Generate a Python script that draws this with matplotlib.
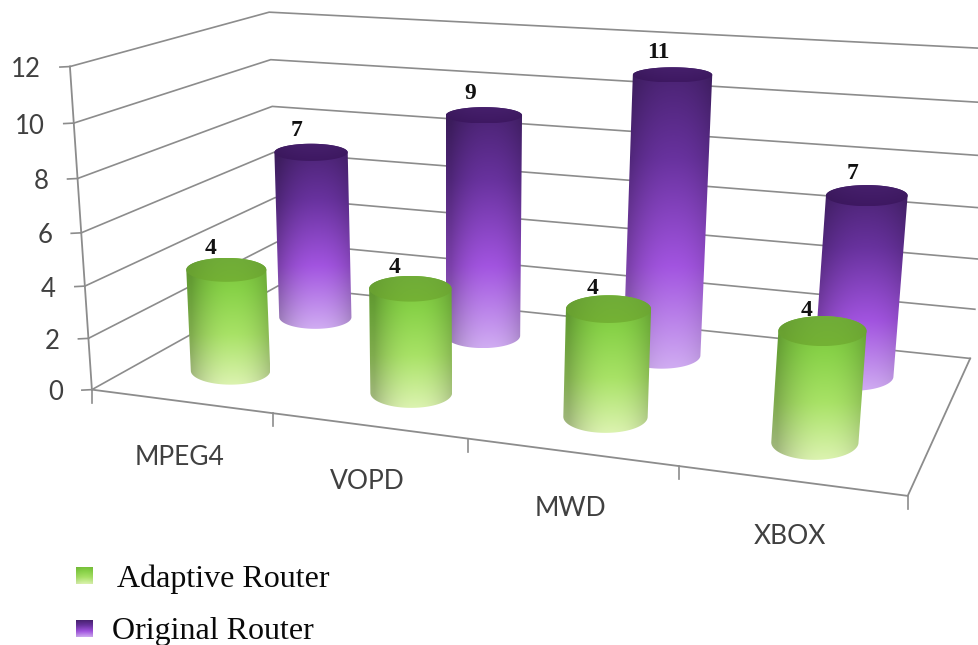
import numpy as np
import matplotlib
matplotlib.use("Agg")
import matplotlib.pyplot as plt
from matplotlib.path import Path
from matplotlib.patches import PathPatch

# Chart data
categories = ["MPEG4", "VOPD", "MWD", "XBOX"]
adaptive_router = [4, 4, 4, 4]
original_router = [7, 9, 11, 7]
y_ticks = [0, 2, 4, 6, 8, 10, 12]
legend_labels = ["Adaptive Router", "Original Router"]

# Camera: known world points (category, depth, value) and their pixel positions
WORLD = np.array([
    [0, 0, 0], [1, 0, 0], [2, 0, 0], [3, 0, 0], [4, 0, 0],
    [0, 0, 12], [0, 1, 0], [0, 1, 12], [4, 1, 0], [4, 1, 2], [4, 1, 12],
], float)
PIXEL = np.array([
    [92, 390], [272, 413], [468, 439], [679, 467], [908, 495],
    [71, 66], [279, 286], [268, 12], [970, 358], [975, 309], [1000, 50],
], float)


def fit_camera(world, pixel):
    rows, rhs = [], []
    for (x, y, z), (u, v) in zip(world, pixel):
        rows.append([x, y, z, 1, 0, 0, 0, 0, -u * x, -u * y, -u * z])
        rows.append([0, 0, 0, 0, x, y, z, 1, -v * x, -v * y, -v * z])
        rhs += [u, v]
    p = np.linalg.lstsq(np.array(rows), np.array(rhs), rcond=None)[0]
    return np.append(p, 1).reshape(3, 4)


CAMERA = fit_camera(WORLD, PIXEL)


def project(x, y, z):
    x, y, z = np.broadcast_arrays(x, y, z)
    pts = np.stack([x, y, z, np.ones_like(x, dtype=float)], axis=-1) @ CAMERA.T
    return pts[..., 0] / pts[..., 2], pts[..., 1] / pts[..., 2]


GREEN = dict(
    body=[(0.0, (120, 192, 58)), (0.25, (136, 210, 72)), (0.6, (168, 226, 102)), (1.0, (220, 243, 176))],
    cap=[(0.0, (112, 172, 56)), (1.0, (116, 178, 52))],
    width=(48, 0.44), shift=0.0,
)
PURPLE = dict(
    body=[(0.0, (72, 34, 112)), (0.3, (104, 50, 158)), (0.66, (162, 84, 224)), (1.0, (208, 172, 242))],
    cap=[(0.0, (70, 32, 108)), (1.0, (62, 24, 98))],
    width=(37, 0.53), shift=-0.012,
)

LINE = "#8c8c8c"
TEXT = "#404040"

fig = plt.figure(figsize=(9.79, 6.45), dpi=100, facecolor="white")
ax = fig.add_axes([0, 0, 1, 1])
ax.set_xlim(0, 979)
ax.set_ylim(645, 0)
ax.set_axis_off()


def ramp(stops, t):
    pos = [s[0] for s in stops]
    return np.stack([np.interp(t, pos, [s[1][c] for s in stops]) for c in range(3)], axis=-1) / 255


def shaded_fill(verts, stops, zorder, edge=0.76):
    """Fill a closed outline with a top-to-bottom ramp and darker sides."""
    verts = np.asarray(verts)
    x0, y0 = verts.min(axis=0)
    x1, y1 = verts.max(axis=0)
    u, v = np.meshgrid(np.linspace(0, 1, 80), np.linspace(0, 1, 160))
    side = np.clip(np.abs(u - 0.56) / 0.5, 0, 1) ** 2.2
    img = ramp(stops, v) * (1 - (1 - edge) * side)[..., None]
    im = ax.imshow(img, extent=(x0, x1, y1, y0), aspect="auto", zorder=zorder,
                   interpolation="bilinear")
    path = Path(np.vstack([verts, verts[0]]), closed=True)
    im.set_clip_path(PathPatch(path, transform=ax.transData))
    return im


def level_ellipse(x, depth, z, rx, ry, width):
    """Centre and half axes of a horizontal disc, drawn level on screen."""
    lft, _ = project(x - rx, depth, z)
    rgt, _ = project(x + rx, depth, z)
    _, near = project(x, depth - ry, z)
    _, far = project(x, depth + ry, z)
    cx, cy = project(x, depth, z)
    full_width = width[0] + width[1] * float(rgt - lft)
    return float(cx), float(cy), full_width / 2, float(near - far) / 2


def cylinder(cat, depth, value, palette, zorder, rx=0.205, ry=0.12):
    x = cat + 0.5 + palette["shift"]
    tcx, tcy, tw, th = level_ellipse(x, depth, value, rx, ry, palette["width"])
    bcx, bcy, bw, bh = level_ellipse(x, depth, 0, rx, ry, palette["width"])
    arc = np.linspace(0, np.pi, 61)
    # side: rim of the top (far half) then the front half of the base
    top_back = np.c_[tcx - tw * np.cos(arc), tcy - th * np.sin(arc)]
    base_front = np.c_[bcx + bw * np.cos(arc), bcy + bh * np.sin(arc)]
    shaded_fill(np.vstack([top_back, base_front]), palette["body"], zorder)
    full = np.linspace(0, 2 * np.pi, 121)[:-1]
    shaded_fill(np.c_[tcx + tw * np.cos(full), tcy + th * np.sin(full)],
                palette["cap"], zorder + 0.1, edge=0.92)
    return tcx, tcy


# Walls and floor
for z in y_ticks:
    xs, ys = project([0, 0, 4], [0, 1, 1], [z, z, z])
    ax.plot(xs, ys, color=LINE, lw=1.2, zorder=1, solid_joinstyle="miter")
    px, py = project(0, 0, z)
    ax.plot([px - 10, px], [py + 0.5, py], color=LINE, lw=1.2, zorder=1)
    ax.text(px - 29, py + 3, str(z), ha="right", va="center", color=TEXT,
            family="Lato", fontsize=18.5, zorder=6)

xs, ys = project([0, 0], [0, 0], [0, 12])
ax.plot(xs, ys, color=LINE, lw=1.3, zorder=1)
xs, ys = project([0, 4, 4], [0, 0, 1], [0, 0, 0])
ax.plot(xs, ys, color=LINE, lw=1.3, zorder=1, solid_joinstyle="miter")

for i in range(len(categories) + 1):
    px, py = project(i, 0, 0)
    ax.plot([px, px], [py, py + 13], color=LINE, lw=1.2, zorder=1)

for i, name in enumerate(categories):
    px, py = project(i + 0.5, 0, 0)
    ax.text(px - 1, py + 56, name, ha="center", va="center", color=TEXT,
            family="Lato", fontsize=19, zorder=6)

# Cylinders, back row first so the front row overlaps it
for i, value in enumerate(original_router):
    px, py = cylinder(i, 0.75, value, PURPLE, 2 + 0.2 * i)
    ax.annotate(str(value), (px, py), xytext=(-14, 22), textcoords="offset pixels",
                ha="center", va="center", family="Liberation Serif", weight="bold",
                fontsize=17, color="#111111", zorder=7)
for i, value in enumerate(adaptive_router):
    px, py = cylinder(i, 0.25, value, GREEN, 4 + 0.2 * i)
    ax.annotate(str(value), (px, py), xytext=(-16, 21), textcoords="offset pixels",
                ha="center", va="center", family="Liberation Serif", weight="bold",
                fontsize=17, color="#111111", zorder=7)

# Legend
legend_rows = [
    (legend_labels[0], GREEN["body"], 76, 567, 117, 579),
    (legend_labels[1], PURPLE["body"], 76, 620, 112, 632),
]
for label, stops, sx, sy, tx, ty in legend_rows:
    square = [(sx, sy), (sx + 17, sy), (sx + 17, sy + 17), (sx, sy + 17)]
    shaded_fill(square, stops, 6, edge=0.95)
    ax.text(tx, ty, label, ha="left", va="center", family="Liberation Serif",
            fontsize=23, color="#0a0a0a", zorder=7)

ax.set_xlim(0, 979)
ax.set_ylim(645, 0)
fig.savefig("out.png", dpi=100)
